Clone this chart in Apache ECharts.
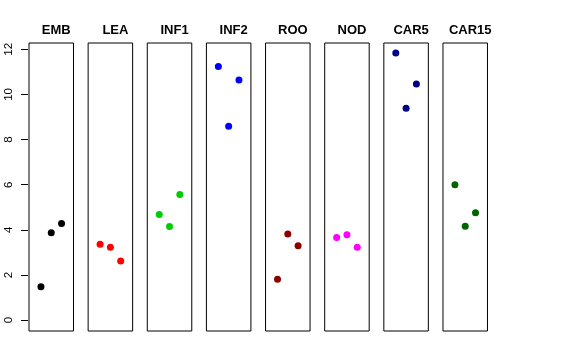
<!DOCTYPE html>
<html>
<head>
<meta charset="utf-8">
<script src="https://cdn.jsdelivr.net/npm/echarts@6/dist/echarts.min.js"></script>
<style>html,body{margin:0;padding:0;background:#fff}#c{width:576px;height:360px}</style>
</head>
<body>
<div id="c"></div>
<script>
var categories = ["EMB", "LEA", "INF1", "INF2", "ROO", "NOD", "CAR5", "CAR15"];
var colors = ["#000000", "#FF0000", "#00CD00", "#0000FF", "#8B0000", "#FF00FF", "#00008B", "#006400"];
var positions = [1, 2, 3];
var EMB = [1.48, 3.87, 4.28];
var LEA = [3.36, 3.23, 2.62];
var INF1 = [4.68, 4.15, 5.57];
var INF2 = [11.24, 8.59, 10.64];
var ROO = [1.81, 3.82, 3.30];
var NOD = [3.66, 3.78, 3.23];
var CAR5 = [11.84, 9.39, 10.46];
var CAR15 = [6.00, 4.16, 4.76];
var values = [EMB, LEA, INF1, INF2, ROO, NOD, CAR5, CAR15];
var yTicks = [0, 2, 4, 6, 8, 10, 12];

var chart = echarts.init(document.getElementById('c'));
var font = 'Liberation Sans, Arial, Helvetica, sans-serif';
var grids = [], xAxes = [], yAxes = [], series = [], titles = [];
var step = 59.14, left0 = 29, pw = 44.5;
var hiddenAxis = {axisLine: {show: false}, axisTick: {show: false}, axisLabel: {show: false}, splitLine: {show: false}};

for (var i = 0; i < categories.length; i++) {
  var l = left0 + i * step;
  grids.push({left: l, top: 43, width: pw, height: 288, show: true, borderColor: '#000', borderWidth: 1});
  xAxes.push(Object.assign({gridIndex: i, type: 'value', min: -0.16, max: 4.16}, hiddenAxis));
  if (i === 0) {
    yAxes.push({gridIndex: 0, type: 'value', min: -0.48, max: 12.28, offset: 1, position: 'left',
      axisLine: {show: false, onZero: false},
      axisTick: {show: true, length: 7, customValues: yTicks, lineStyle: {color: '#000', width: 1}},
      splitLine: {show: false},
      axisLabel: {show: true, customValues: yTicks, rotate: 90, margin: 13, color: '#000', fontSize: 11.5, fontFamily: font}
    });
  } else {
    yAxes.push(Object.assign({gridIndex: i, type: 'value', min: -0.48, max: 12.28}, hiddenAxis));
  }
  series.push({
    type: 'scatter', xAxisIndex: i, yAxisIndex: i,
    symbol: 'circle', symbolSize: 7,
    itemStyle: {color: colors[i], opacity: 1},
    data: positions.map(function (p, k) { return [p, values[i][k]]; }),
    silent: true
  });
  titles.push({text: categories[i], left: l + pw / 2, top: 19, textAlign: 'center',
    textStyle: {fontSize: 13, fontWeight: 'bold', color: '#000', fontFamily: font}});
}

chart.setOption({
  animation: false,
  backgroundColor: '#fff',
  title: titles,
  grid: grids,
  xAxis: xAxes,
  yAxis: yAxes,
  series: series
});
</script>
</body>
</html>
